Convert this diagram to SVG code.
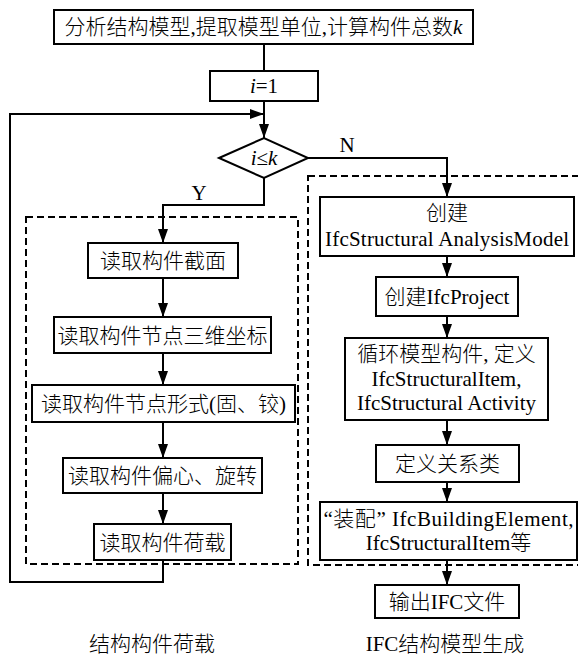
<svg xmlns="http://www.w3.org/2000/svg" width="578" height="661" viewBox="0 0 578 661">
  <style>
    .box { fill: #fff; stroke: #000; stroke-width: 2; }
    .frame { fill: none; stroke: #000; stroke-width: 2; stroke-dasharray: 7 4; }
    .link { fill: none; stroke: #000; stroke-width: 2; }
    .arrow { marker-end: url(#head); }
    text { font-family: "Liberation Serif", "Noto Sans CJK SC", serif; font-size: 21px; font-weight: 300; fill: #000; text-anchor: middle; }
    .it { font-style: italic; }
  </style>
  <defs>
    <marker id="head" markerUnits="userSpaceOnUse" markerWidth="14" markerHeight="10" refX="14" refY="5" orient="auto">
      <path d="M0,0 L14,5 L0,10 z" fill="#000"/>
    </marker>
  </defs>

  <rect width="578" height="661" fill="#fff"/>

  <!-- dashed group frames -->
  <rect class="frame" x="26" y="217" width="272" height="347"/>
  <rect class="frame" x="308" y="176" width="290" height="389"/>

  <!-- connectors -->
  <g id="connectors">
    <line class="link" x1="264" y1="44" x2="264" y2="71"/>
    <line class="link arrow" x1="264" y1="101" x2="264" y2="138"/>
    <polyline class="link arrow" points="163,560 163,582 10,582 10,114 264,114"/>
    <polyline class="link arrow" points="264,178 264,205 163,205 163,243"/>
    <polyline class="link arrow" points="308,158 447,158 447,197"/>
    <line class="link arrow" x1="163" y1="278" x2="163" y2="317"/>
    <line class="link arrow" x1="163" y1="353" x2="163" y2="385"/>
    <line class="link arrow" x1="163" y1="422" x2="163" y2="458"/>
    <line class="link arrow" x1="163" y1="493" x2="163" y2="524"/>
    <line class="link arrow" x1="447" y1="256" x2="447" y2="277"/>
    <line class="link arrow" x1="447" y1="316" x2="447" y2="338"/>
    <line class="link arrow" x1="447" y1="420" x2="447" y2="445"/>
    <line class="link arrow" x1="447" y1="482" x2="447" y2="502"/>
    <line class="link arrow" x1="447" y1="560" x2="447" y2="585"/>
    <text x="347" y="152">N</text>
    <text x="199" y="200">Y</text>
  </g>

  <g id="start">
    <rect class="box" x="54" y="10" width="419" height="34"/>
    <text x="263.5" y="34">分析结构模型,提取模型单位,计算构件总数<tspan class="it">k</tspan></text>
  </g>

  <g id="init">
    <rect class="box" x="210" y="71" width="108" height="30"/>
    <text x="264" y="93"><tspan class="it">i</tspan>=1</text>
  </g>

  <g id="check">
    <polygon class="box" points="219,158 264,138 308,158 264,178"/>
    <text x="264" y="165"><tspan class="it">i</tspan>≤<tspan class="it">k</tspan></text>
  </g>

  <g id="read-section">
    <rect class="box" x="88" y="243" width="150" height="35"/>
    <text x="163" y="268">读取构件截面</text>
  </g>
  <g id="read-coords">
    <rect class="box" x="54" y="317" width="217" height="36"/>
    <text x="162.5" y="343">读取构件节点三维坐标</text>
  </g>
  <g id="read-joints">
    <rect class="box" x="32" y="385" width="263" height="37"/>
    <text x="163.5" y="411">读取构件节点形式(固、铰)</text>
  </g>
  <g id="read-offset">
    <rect class="box" x="63" y="458" width="199" height="35"/>
    <text x="162.5" y="483">读取构件偏心、旋转</text>
  </g>
  <g id="read-load">
    <rect class="box" x="94" y="524" width="137" height="36"/>
    <text x="162.5" y="550">读取构件荷载</text>
  </g>

  <g id="create-model">
    <rect class="box" x="320" y="197" width="254" height="59"/>
    <text x="447" y="220">创建</text>
    <text x="447" y="246" textLength="244" lengthAdjust="spacing">IfcStructural AnalysisModel</text>
  </g>
  <g id="create-project">
    <rect class="box" x="376" y="277" width="142" height="39"/>
    <text x="447" y="304">创建IfcProject</text>
  </g>
  <g id="define-items">
    <rect class="box" x="345" y="338" width="203" height="82"/>
    <text x="446.5" y="361">循环模型构件, 定义</text>
    <text x="446.5" y="386">IfcStructuralItem,</text>
    <text x="446.5" y="410">IfcStructural Activity</text>
  </g>
  <g id="define-relations">
    <rect class="box" x="376" y="445" width="143" height="37"/>
    <text x="447.5" y="471">定义关系类</text>
  </g>
  <g id="assemble">
    <rect class="box" x="320" y="502" width="257" height="58"/>
    <text x="448.5" y="526" textLength="250" lengthAdjust="spacing">“装配” IfcBuildingElement,</text>
    <text x="448.5" y="550">IfcStructuralItem等</text>
  </g>
  <g id="output">
    <rect class="box" x="375" y="585" width="144" height="33"/>
    <text x="447" y="609">输出IFC文件</text>
  </g>

  <!-- group captions -->
  <text x="152" y="651">结构构件荷载</text>
  <text x="445" y="651">IFC结构模型生成</text>
</svg>
